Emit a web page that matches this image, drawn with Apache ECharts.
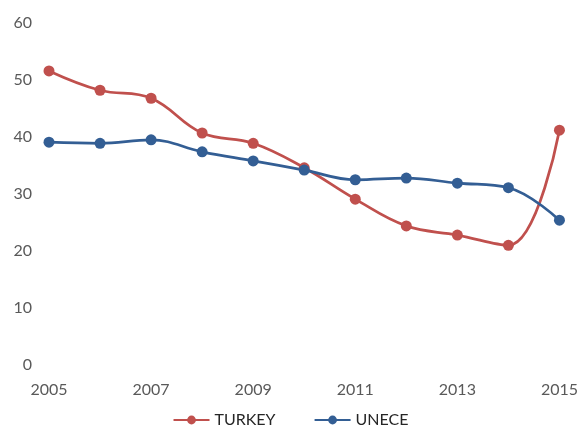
<!DOCTYPE html>
<html>
<head>
<meta charset="utf-8">
<script src="https://cdn.jsdelivr.net/npm/echarts@6/dist/echarts.min.js"></script>
<style>
  html, body { margin: 0; padding: 0; background: #fff; }
  #main { width: 581px; height: 429px; }
</style>
</head>
<body>
<div id="main"></div>
<script>
  var years = ['2005', '2006', '2007', '2008', '2009', '2010', '2011', '2012', '2013', '2014', '2015'];
  var turkey = [51.6, 48.2, 46.8, 40.7, 38.9, 34.6, 29.1, 24.4, 22.8, 21.0, 41.2];
  var unece = [39.1, 38.9, 39.5, 37.4, 35.8, 34.2, 32.5, 32.8, 31.9, 31.1, 25.4];

  var chart = echarts.init(document.getElementById('main'));
  var font = 'Lato, "Open Sans", sans-serif';

  function line(name, data, color) {
    return {
      name: name,
      type: 'line',
      data: data,
      smooth: 0.4,
      symbol: 'circle',
      symbolSize: 11,
      lineStyle: { color: color, width: 2.75 },
      itemStyle: { color: color }
    };
  }

  chart.setOption({
    animation: false,
    grid: { left: 49, right: 19, top: 23, bottom: 64 },
    xAxis: {
      type: 'category',
      data: years,
      boundaryGap: false,
      axisLine: { show: false },
      axisTick: { show: false },
      axisLabel: { interval: 1, color: '#595959', fontSize: 16, fontFamily: font, margin: 17 }
    },
    yAxis: {
      type: 'value',
      min: 0, max: 60, interval: 10,
      splitLine: { show: false },
      axisLine: { show: false },
      axisTick: { show: false },
      axisLabel: { color: '#595959', fontSize: 16, fontFamily: font, margin: 17 }
    },
    legend: {
      top: 408,
      left: 'center',
      padding: [4, 5],
      itemWidth: 36,
      itemHeight: 11,
      itemGap: 38,
      textStyle: { color: '#262626', fontSize: 16, fontFamily: font },
      data: ['TURKEY', 'UNECE']
    },
    series: [
      line('TURKEY', turkey, '#c0504d'),
      line('UNECE', unece, '#335e94')
    ]
  });
</script>
</body>
</html>
